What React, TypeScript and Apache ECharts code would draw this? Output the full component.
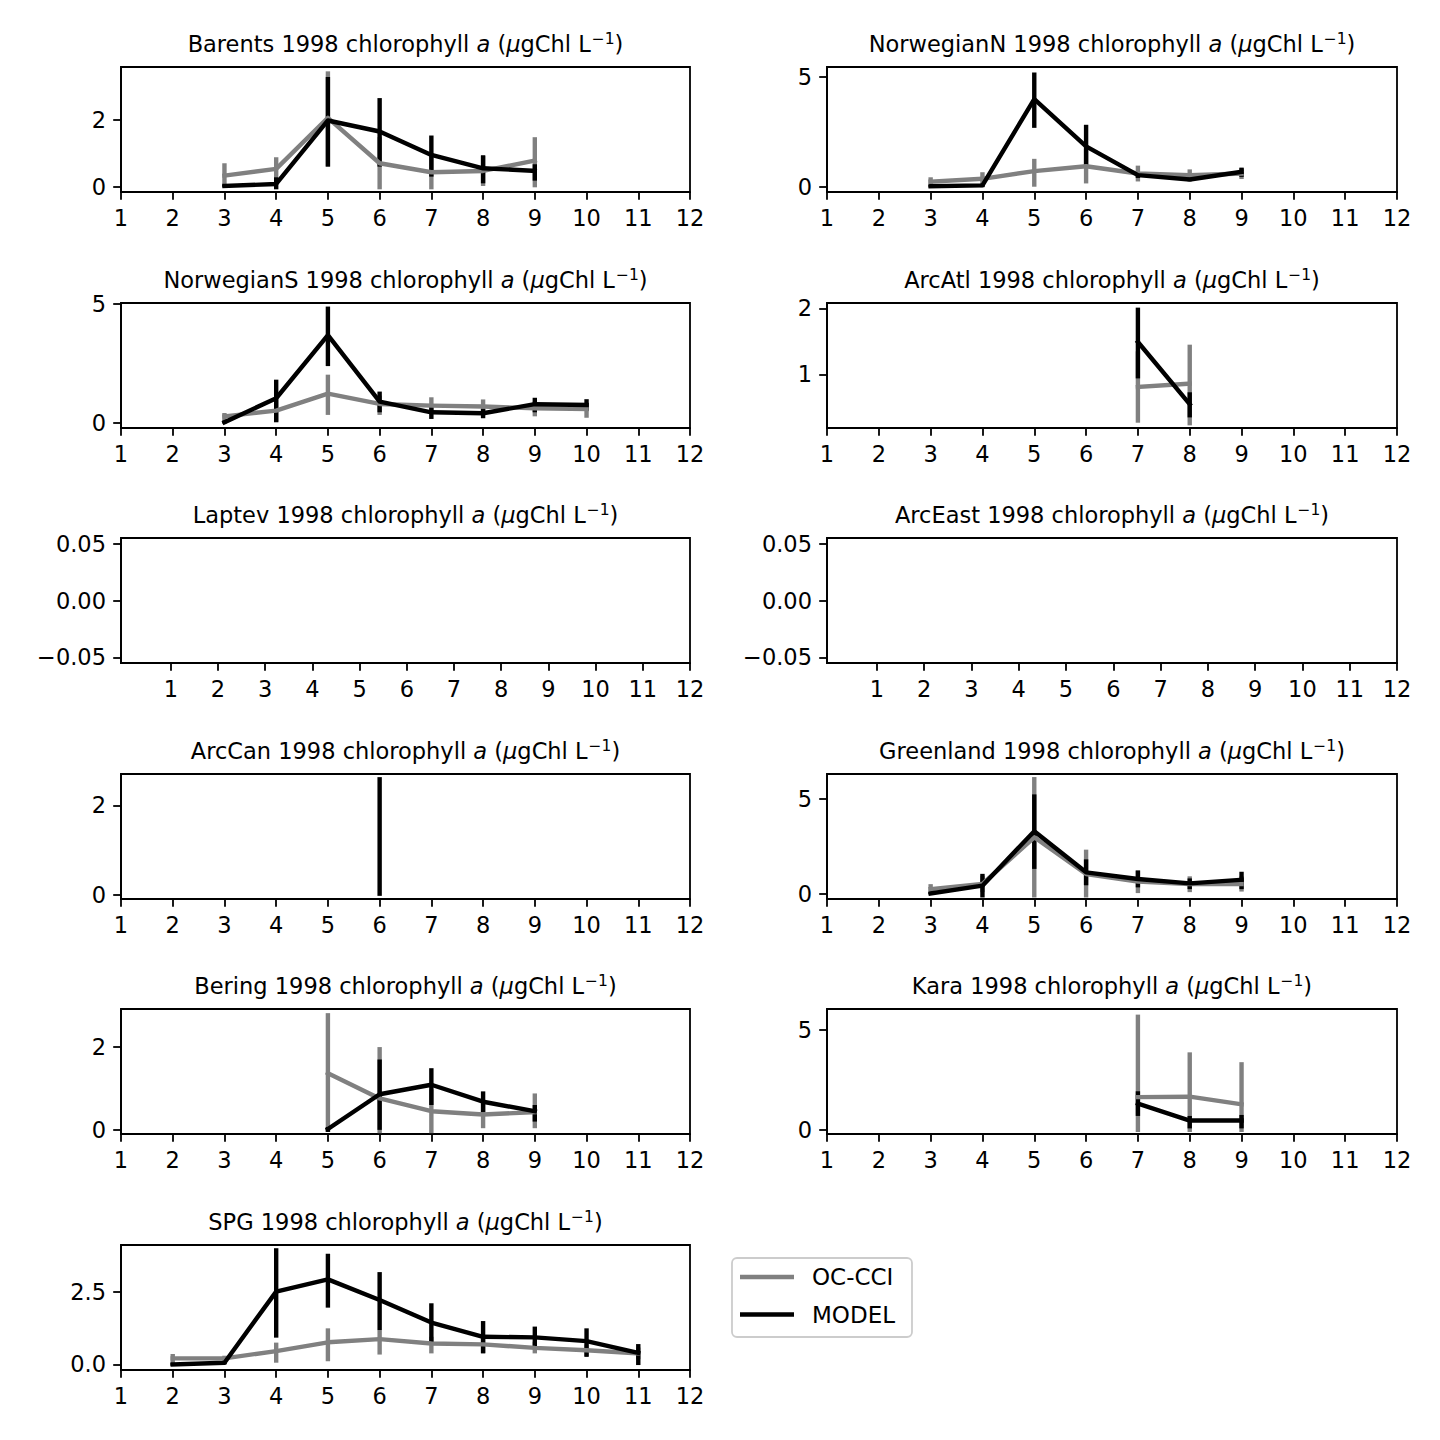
import React, { useEffect, useRef } from "react";
import * as echarts from "echarts";

const seriesNames = ["OC-CCI", "MODEL"];
const seriesColors = ["#808080", "#000000"];
const months = [1, 2, 3, 4, 5, 6, 7, 8, 9, 10, 11, 12];
const year = "1998";

// each row: [month, value, errLow, errHigh]
const barentsOcci = [[3, 0.33, -0.02, 0.7], [4, 0.53, 0.18, 0.88], [5, 2.06, 0.6, 3.45], [6, 0.7, -0.08, 1.48], [7, 0.43, -0.08, 0.94], [8, 0.47, 0.02, 0.92], [9, 0.78, -0.02, 1.48]];
const barentsModel = [[3, 0.02, 0.0, 0.05], [4, 0.08, -0.08, 0.28], [5, 1.98, 0.6, 3.28], [6, 1.65, 0.6, 2.65], [7, 0.95, 0.3, 1.53], [8, 0.55, 0.1, 0.94], [9, 0.47, 0.18, 0.67]];

const norwNOcci = [[3, 0.23, 0.03, 0.43], [4, 0.36, 0.06, 0.66], [5, 0.71, 0.0, 1.27], [6, 0.93, 0.15, 1.71], [7, 0.6, 0.24, 0.96], [8, 0.53, 0.27, 0.79], [9, 0.6, 0.35, 0.85]];
const norwNModel = [[3, 0.02, -0.03, 0.07], [4, 0.06, -0.02, 0.14], [5, 3.99, 2.68, 5.2], [6, 1.84, 0.87, 2.82], [7, 0.53, 0.4, 0.66], [8, 0.33, 0.25, 0.41], [9, 0.68, 0.45, 0.87]];

const norwSOcci = [[3, 0.28, 0.03, 0.42], [4, 0.52, 0.06, 0.98], [5, 1.23, 0.34, 2.03], [6, 0.8, 0.34, 1.15], [7, 0.73, 0.38, 1.08], [8, 0.69, 0.42, 0.99], [9, 0.62, 0.28, 0.9], [10, 0.59, 0.22, 0.84]];
const norwSModel = [[3, 0.03, -0.02, 0.1], [4, 1.04, 0.03, 1.82], [5, 3.69, 2.39, 4.89], [6, 0.9, 0.45, 1.32], [7, 0.45, 0.17, 0.72], [8, 0.41, 0.2, 0.6], [9, 0.79, 0.45, 1.06], [10, 0.76, 0.52, 1.0]];

const arcAtlOcci = [[7, 0.81, 0.27, 1.35], [8, 0.86, 0.23, 1.45]];
const arcAtlModel = [[7, 1.49, 0.94, 2.01], [8, 0.55, 0.35, 0.73]];

const laptevOcci: number[][] = [];
const laptevModel: number[][] = [];
const arcEastOcci: number[][] = [];
const arcEastModel: number[][] = [];

const arcCanOcci: number[][] = [];
const arcCanModel = [[6, 1.3, -0.02, 2.63]];

const greenlandOcci = [[3, 0.26, 0.0, 0.52], [4, 0.53, 0.1, 0.96], [5, 2.98, -0.18, 6.14], [6, 1.05, -0.18, 2.33], [7, 0.65, 0.05, 1.25], [8, 0.53, 0.1, 0.93], [9, 0.53, 0.13, 0.93]];
const greenlandModel = [[3, 0.03, -0.02, 0.08], [4, 0.44, -0.18, 1.06], [5, 3.3, 1.32, 5.23], [6, 1.14, 0.46, 1.82], [7, 0.79, 0.35, 1.23], [8, 0.56, 0.26, 0.82], [9, 0.75, 0.26, 1.17]];

const beringOcci = [[5, 1.37, -0.04, 2.82], [6, 0.76, -0.08, 2.0], [7, 0.45, -0.08, 0.98], [8, 0.37, 0.04, 0.7], [9, 0.43, 0.04, 0.88]];
const beringModel = [[5, 0.02, -0.05, 0.07], [6, 0.86, 0.0, 1.7], [7, 1.09, 0.6, 1.49], [8, 0.68, 0.43, 0.93], [9, 0.45, 0.2, 0.6]];

const karaOcci = [[7, 1.64, -0.1, 5.75], [8, 1.66, -0.1, 3.87], [9, 1.28, -0.1, 3.38]];
const karaModel = [[7, 1.31, 0.7, 1.93], [8, 0.47, 0.08, 0.7], [9, 0.47, 0.08, 0.75]];

const spgOcci = [[2, 0.21, -0.02, 0.36], [3, 0.21, 0.03, 0.3], [4, 0.46, 0.06, 0.75], [5, 0.76, 0.11, 1.24], [6, 0.87, 0.34, 1.18], [7, 0.72, 0.38, 0.95], [8, 0.69, 0.39, 0.99], [9, 0.57, 0.38, 0.78], [10, 0.49, 0.29, 0.69], [11, 0.38, 0.18, 0.58]];
const spgModel = [[2, 0.0, -0.05, 0.05], [3, 0.06, 0.0, 0.1], [4, 2.5, 0.92, 3.99], [5, 2.92, 1.95, 3.8], [6, 2.21, 1.18, 3.17], [7, 1.44, 0.72, 2.1], [8, 0.95, 0.38, 1.49], [9, 0.93, 0.55, 1.3], [10, 0.8, 0.26, 1.24], [11, 0.4, -0.02, 0.7]];

const regionNames = ["Barents", "NorwegianN", "NorwegianS", "ArcAtl", "Laptev", "ArcEast", "ArcCan", "Greenland", "Bering", "Kara", "SPG"];
const regionOcci = [barentsOcci, norwNOcci, norwSOcci, arcAtlOcci, laptevOcci, arcEastOcci, arcCanOcci, greenlandOcci, beringOcci, karaOcci, spgOcci];
const regionModel = [barentsModel, norwNModel, norwSModel, arcAtlModel, laptevModel, arcEastModel, arcCanModel, greenlandModel, beringModel, karaModel, spgModel];
const yMins = [-0.16, -0.24, -0.21, 0.19, -0.055, -0.055, -0.09, -0.26, -0.1, -0.2, -0.19];
const yMaxs = [3.58, 5.45, 5.04, 2.08, 0.055, 0.055, 2.7, 6.3, 2.92, 6.03, 4.1];
const yTicks = [[0, 2], [0, 5], [0, 5], [1, 2], [-0.05, 0, 0.05], [-0.05, 0, 0.05], [0, 2], [0, 5], [0, 2], [0, 5], [0, 2.5]];
const yDecimals = [0, 0, 0, 0, 2, 2, 0, 0, 0, 0, 1];
const xMins = [1, 1, 1, 1, -0.055, -0.055, 1, 1, 1, 1, 1];
const xMax = 12;

const FONT = "DejaVu Sans";
const FS = 22.5;

export default function App() {
  const ref = useRef<HTMLDivElement>(null);
  useEffect(() => {
    if (!ref.current) return;
    const chart = echarts.init(ref.current, null, { renderer: "svg" });

    const colLeft = [121, 827];
    const colWidth = [569, 570];
    const rowTop = [67, 303, 538, 774, 1009, 1245];
    const axH = 125;

    const grids: any[] = [];
    const xAxes: any[] = [];
    const yAxes: any[] = [];
    const series: any[] = [];
    const titles: any[] = [];

    const fmt = (v: number, d: number) => {
      const s = Math.abs(v).toFixed(d);
      return v < -1e-9 ? "\u2212" + s : s;
    };

    regionNames.forEach((name, i) => {
      const col = i % 2;
      const row = Math.floor(i / 2);
      const left = colLeft[col];
      const top = rowTop[row];
      const width = colWidth[col];
      grids.push({
        left, top, width, height: axH,
        show: true, borderColor: "#000", borderWidth: 1.8, backgroundColor: "#fff",
        containLabel: false,
      });
      xAxes.push({
        gridIndex: i, type: "value", min: xMins[i], max: xMax,
        axisLine: { show: true, onZero: false, lineStyle: { color: "#000", width: 1.8 } },
        axisTick: { show: true, length: 7.8, lineStyle: { color: "#000", width: 1.8 }, customValues: months },
        axisLabel: { customValues: months, fontSize: FS, fontFamily: FONT, color: "#000", margin: 14, formatter: (v: number) => String(v) },
        splitLine: { show: false },
      });
      const d = yDecimals[i];
      yAxes.push({
        gridIndex: i, type: "value", min: yMins[i], max: yMaxs[i],
        axisLine: { show: true, onZero: false, lineStyle: { color: "#000", width: 1.8 } },
        axisTick: { show: true, length: 7.8, lineStyle: { color: "#000", width: 1.8 }, customValues: yTicks[i] },
        axisLabel: { customValues: yTicks[i], fontSize: FS, fontFamily: FONT, color: "#000", margin: 15, formatter: (v: number) => fmt(v, d) },
        splitLine: { show: false },
      });
      titles.push({
        text: name + " " + year + " chlorophyll {it|a} ({it|\u03bc}gChl L{sup|\u22121})",
        left: left + width / 2,
        top: top - 10,
        textAlign: "center",
        textVerticalAlign: "bottom",
        padding: 0,
        textStyle: {
          fontFamily: FONT, fontSize: FS, fontWeight: "normal", color: "#000", lineHeight: 26,
          rich: {
            it: { fontFamily: FONT, fontSize: FS, fontStyle: "italic", color: "#000", lineHeight: 26 },
            sup: { fontFamily: FONT, fontSize: 15.5, color: "#000", lineHeight: 26, verticalAlign: "top", padding: [0, 0, 0, 1] },
          },
        },
      });

      const groups = [regionOcci[i], regionModel[i]];
      groups.forEach((rows, k) => {
        const color = seriesColors[k];
        series.push({
          type: "custom",
          name: seriesNames[k],
          xAxisIndex: i, yAxisIndex: i,
          data: rows.map((r) => [r[0], r[2], r[3]]),
          encode: { x: 0, y: [1, 2] },
          clip: false,
          silent: true,
          renderItem: (_p: any, api: any) => {
            const x = api.value(0);
            const a = api.coord([x, api.value(1)]);
            const b = api.coord([x, api.value(2)]);
            return {
              type: "line",
              shape: { x1: a[0], y1: a[1], x2: b[0], y2: b[1] },
              style: { stroke: color, lineWidth: 4.4, lineCap: "butt" },
            };
          },
        });
        series.push({
          type: "line",
          name: seriesNames[k],
          xAxisIndex: i, yAxisIndex: i,
          data: rows.map((r) => [r[0], r[1]]),
          showSymbol: false,
          symbol: "none",
          silent: true,
          lineStyle: { color, width: 4.4, cap: "square", join: "round" },
          itemStyle: { color },
        });
      });
    });

    const legX = 732, legY = 1258;
    const graphic: any[] = [
      { type: "rect", shape: { x: legX, y: legY, width: 180, height: 79, r: 5 }, style: { fill: "rgba(255,255,255,0.8)", stroke: "#cccccc", lineWidth: 1.8 } },
    ];
    seriesNames.forEach((n, k) => {
      const cy = legY + 19 + k * 37.5;
      graphic.push({ type: "line", shape: { x1: legX + 8, y1: cy, x2: legX + 62, y2: cy }, style: { stroke: seriesColors[k], lineWidth: 4.4 } });
      graphic.push({ type: "text", x: legX + 80, y: cy, style: { text: n, fontFamily: FONT, fontSize: 23, fill: "#000", align: "left", verticalAlign: "middle" } });
    });

    chart.setOption({
      animation: false,
      backgroundColor: "#fff",
      title: titles,
      grid: grids,
      xAxis: xAxes,
      yAxis: yAxes,
      series,
      graphic,
    });
    return () => chart.dispose();
  }, []);
  return <div ref={ref} style={{ position: "absolute", left: 0, top: 0, width: 1440, height: 1440 }} />;
}
